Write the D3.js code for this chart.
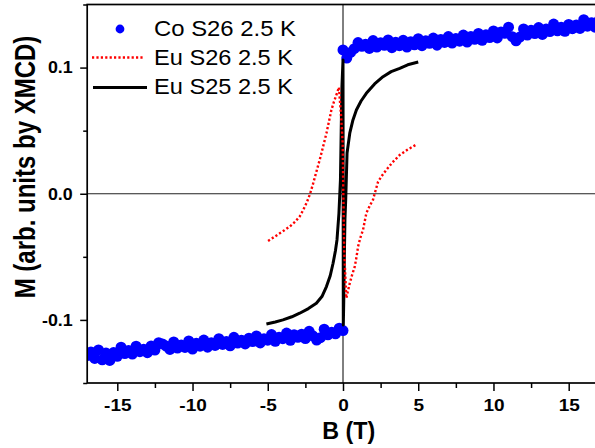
<!DOCTYPE html>
<html>
<head>
<meta charset="utf-8">
<script src="https://cdn.jsdelivr.net/npm/d3@7"></script>
<style>
  html, body { margin: 0; padding: 0; background: #fff; }
  svg { display: block; font-family: "Liberation Sans", Arial, sans-serif; }
</style>
</head>
<body>
<svg id="chart" width="595" height="448"></svg>
<script>
// Co S26 2.5 K — XMCD magnetisation, negative-field branch (two sweeps interleaved)
const coNegField = [-17, -16.75, -16.5, -16.25, -16, -15.75, -15.5, -15.25, -15, -14.75,
  -14.5, -14.25, -14, -13.75, -13.5, -13.25, -13, -12.75, -12.5, -12.25,
  -12, -11.75, -11.5, -11.25, -11, -10.75, -10.5, -10.25, -10, -9.75,
  -9.5, -9.25, -9, -8.75, -8.5, -8.25, -8, -7.75, -7.5, -7.25,
  -7, -6.75, -6.5, -6.25, -6, -5.75, -5.5, -5.25, -5, -4.75,
  -4.5, -4.25, -4, -3.75, -3.5, -3.25, -3, -2.75, -2.5, -2.25,
  -2, -1.75, -1.5, -1.25, -1, -0.75, -0.5, -0.25, 0];
const coNegMoment = [-0.1282, -0.1254, -0.1305, -0.1238, -0.1316, -0.1263, -0.1321, -0.1259, -0.1288, -0.1216,
  -0.1267, -0.1242, -0.1271, -0.1208, -0.1252, -0.1233, -0.1260, -0.1206, -0.1239, -0.1181,
  -0.1190, -0.1207, -0.1234, -0.1175, -0.1223, -0.1199, -0.1218, -0.1167, -0.1231, -0.1185,
  -0.1208, -0.1160, -0.1216, -0.1180, -0.1202, -0.1149, -0.1194, -0.1172, -0.1205, -0.1138,
  -0.1183, -0.1161, -0.1190, -0.1145, -0.1171, -0.1127, -0.1182, -0.1149, -0.1161, -0.1116,
  -0.1170, -0.1138, -0.1149, -0.1104, -0.1162, -0.1117, -0.1138, -0.1113, -0.1148, -0.1090,
  -0.1126, -0.1160, -0.1141, -0.1074, -0.1118, -0.1097, -0.1110, -0.1066, -0.1084];

// Co S26 2.5 K — positive-field branch (two sweeps interleaved)
const coPosField = [0, 0.25, 0.5, 0.75, 1, 1.25, 1.5, 1.75, 2, 2.25,
  2.5, 2.75, 3, 3.25, 3.5, 3.75, 4, 4.25, 4.5, 4.75,
  5, 5.25, 5.5, 5.75, 6, 6.25, 6.5, 6.75, 7, 7.25,
  7.5, 7.75, 8, 8.25, 8.5, 8.75, 9, 9.25, 9.5, 9.75,
  10, 10.25, 10.5, 10.75, 11, 11.25, 11.5, 11.75, 12, 12.25,
  12.5, 12.75, 13, 13.25, 13.5, 13.75, 14, 14.25, 14.5, 14.75,
  15, 15.25, 15.5, 15.75, 16, 16.25, 16.5, 16.75, 17];
const coPosMoment = [0.1140, 0.1075, 0.1120, 0.1150, 0.1198, 0.1169, 0.1185, 0.1152, 0.1214, 0.1163,
  0.1196, 0.1177, 0.1219, 0.1158, 0.1200, 0.1174, 0.1216, 0.1163, 0.1205, 0.1181,
  0.1229, 0.1174, 0.1212, 0.1192, 0.1234, 0.1178, 0.1223, 0.1199, 0.1246, 0.1194,
  0.1230, 0.1209, 0.1258, 0.1202, 0.1246, 0.1224, 0.1271, 0.1216, 0.1260, 0.1238,
  0.1290, 0.1235, 0.1282, 0.1272, 0.1320, 0.1245, 0.1212, 0.1242, 0.1306, 0.1258,
  0.1295, 0.1270, 0.1317, 0.1263, 0.1305, 0.1286, 0.1345, 0.1292, 0.1320, 0.1288,
  0.1342, 0.1308, 0.1338, 0.1310, 0.1380, 0.1328, 0.1355, 0.1320, 0.1372];

// Eu S26 2.5 K — field sweep from -5 T to +5 T
const euS26Field = [-4.98, -4.6, -4.2, -3.9, -3.54, -3.2, -2.88, -2.65, -2.43, -2.2,
  -2.0, -1.78, -1.55, -1.32, -1.1, -0.92, -0.77, -0.6, -0.45, -0.27,
  -0.12, -0.02, 0.02, 0.08, 0.22, 0.32, 0.45, 0.6, 0.78, 0.9,
  1.0, 1.15, 1.33, 1.55, 1.78, 1.99, 2.15, 2.33, 2.6, 2.88,
  3.3, 3.77, 4.3, 4.83];
const euS26Moment = [-0.0374, -0.0345, -0.0313, -0.0290, -0.0260, -0.0224, -0.0181, -0.0130, -0.0075, -0.0005,
  0.0075, 0.0170, 0.0268, 0.0375, 0.0480, 0.0580, 0.0664, 0.0730, 0.0780, 0.0844,
  0.0600, 0.0400, 0.0000, -0.0450, -0.0828, -0.0775, -0.0709, -0.0645, -0.0578, -0.0500,
  -0.0419, -0.0350, -0.0287, -0.0155, -0.0095, -0.0049, 0.0020, 0.0095, 0.0145, 0.0189,
  0.0250, 0.0307, 0.0350, 0.0387];

// Eu S25 2.5 K — field sweep from -5 T to +5 T
const euS25Field = [-5.09, -4.5, -3.99, -3.4, -2.88, -2.3, -1.77, -1.4, -1.1, -0.85,
  -0.66, -0.5, -0.4, -0.27, -0.17, -0.12, -0.07, 0.0, 0.02, 0.05,
  0.09, 0.13, 0.18, 0.27, 0.45, 0.65, 0.89, 1.2, 1.55, 2.1,
  2.66, 3.2, 3.77, 4.3, 5.0];
const euS25Moment = [-0.1032, -0.1016, -0.1000, -0.0975, -0.0947, -0.0910, -0.0868, -0.0815, -0.0736, -0.0650,
  -0.0551, -0.0450, -0.0366, -0.0155, 0.0110, 0.0500, 0.0850, 0.1060, -0.1040, -0.0850,
  -0.0500, -0.0200, -0.0050, 0.0323, 0.0480, 0.0580, 0.0664, 0.0735, 0.0796, 0.0870,
  0.0928, 0.0968, 0.0994, 0.1022, 0.1044];

// Axis ticks
const xMajorTicks = [-15, -10, -5, 0, 5, 10, 15];
const xMinorTicks = [-12.5, -7.5, -2.5, 2.5, 7.5, 12.5];
const yMajorTicks = [-0.1, 0.0, 0.1];
const yMinorTicks = [-0.15, -0.05, 0.05, 0.15];

const legendLabels = ["Co S26 2.5 K", "Eu S26 2.5 K", "Eu S25 2.5 K"];

const svg = d3.select("#chart");
const plot = { left: 87.2, right: 598.8, top: 4.5, bottom: 383 };

const x = d3.scaleLinear().domain([-17, 17]).range([plot.left, plot.right]);
const y = d3.scaleLinear().domain([-0.15, 0.15]).range([plot.bottom, plot.top]);

svg.append("defs").append("clipPath").attr("id", "plotClip")
  .append("rect")
  .attr("x", plot.left).attr("y", plot.top)
  .attr("width", plot.right - plot.left).attr("height", plot.bottom - plot.top);

// stretch text horizontally by factor k
function stretch(sel, k) {
  sel.each(function () {
    const w = this.getComputedTextLength();
    this.setAttribute("textLength", w * k);
    this.setAttribute("lengthAdjust", "spacingAndGlyphs");
  });
}

const data = svg.append("g").attr("clip-path", "url(#plotClip)");

// zero lines
data.append("line")
  .attr("x1", plot.left).attr("x2", plot.right)
  .attr("y1", y(0)).attr("y2", y(0))
  .attr("stroke", "#222").attr("stroke-width", 1);
data.append("line")
  .attr("x1", x(0)).attr("x2", x(0))
  .attr("y1", plot.top).attr("y2", plot.bottom)
  .attr("stroke", "#000").attr("stroke-width", 1);

// Co scatter
const coPoints = coNegField.map((b, i) => [b, coNegMoment[i]])
  .concat(coPosField.map((b, i) => [b, coPosMoment[i]]));
data.append("g").selectAll("circle")
  .data(coPoints)
  .join("circle")
  .attr("cx", d => x(d[0]))
  .attr("cy", d => y(d[1]))
  .attr("r", 5.5)
  .attr("fill", "#0000ff");

const line = d3.line().x(d => x(d[0])).y(d => y(d[1]));

// Eu S25 solid loop
data.append("path")
  .datum(euS25Field.map((b, i) => [b, euS25Moment[i]]))
  .attr("d", line)
  .attr("fill", "none")
  .attr("stroke", "#000")
  .attr("stroke-width", 3)
  .attr("stroke-linejoin", "round");

// Eu S26 dotted loop
data.append("path")
  .datum(euS26Field.map((b, i) => [b, euS26Moment[i]]))
  .attr("d", line)
  .attr("fill", "none")
  .attr("stroke", "#ff0000")
  .attr("stroke-width", 2.4)
  .attr("stroke-dasharray", "2.2,2.2");

// frame
svg.append("rect")
  .attr("x", plot.left).attr("y", plot.top)
  .attr("width", plot.right - plot.left).attr("height", plot.bottom - plot.top)
  .attr("fill", "none").attr("stroke", "#000").attr("stroke-width", 1.7);

// x axis
const xAxis = svg.append("g")
  .attr("transform", `translate(0,${plot.bottom})`)
  .call(d3.axisBottom(x).tickValues(xMajorTicks).tickSize(8).tickPadding(8.5)
    .tickFormat(d => d3.format("d")(d).replace("−", "-")));
svg.append("g")
  .attr("transform", `translate(0,${plot.bottom})`)
  .call(d3.axisBottom(x).tickValues(xMinorTicks).tickSize(5).tickFormat(""))
  .call(g => g.select(".domain").remove())
  .selectAll("line").attr("stroke-width", 1.5);
xAxis.select(".domain").remove();
xAxis.selectAll("line").attr("stroke-width", 1.5);
xAxis.selectAll("text")
  .attr("font-size", 16.5).attr("font-weight", "bold")
  .attr("font-family", '"Liberation Sans", Arial, sans-serif')
  .attr("fill", "#000")
  .call(stretch, 1.15);

// y axis
const yAxis = svg.append("g")
  .attr("transform", `translate(${plot.left},0)`)
  .call(d3.axisLeft(y).tickValues(yMajorTicks).tickSize(7).tickPadding(7.5)
    .tickFormat(d => d3.format(".1f")(d).replace("−", "-")));
svg.append("g")
  .attr("transform", `translate(${plot.left},0)`)
  .call(d3.axisLeft(y).tickValues(yMinorTicks).tickSize(4).tickFormat(""))
  .call(g => g.select(".domain").remove())
  .selectAll("line").attr("stroke-width", 1.5);
yAxis.select(".domain").remove();
yAxis.selectAll("line").attr("stroke-width", 1.5);
yAxis.selectAll("text")
  .attr("font-size", 16.5).attr("font-weight", "bold")
  .attr("font-family", '"Liberation Sans", Arial, sans-serif')
  .attr("fill", "#000")
  .call(stretch, 1.08);

// axis titles
svg.append("text")
  .attr("x", 348.7).attr("y", 439.3)
  .attr("text-anchor", "middle")
  .attr("font-size", 24).attr("font-weight", "bold")
  .text("B (T)")
  .call(stretch, 0.97);

// vertical title: condensed along its reading direction
svg.append("text")
  .attr("transform", "translate(35,167) rotate(-90) scale(1,1.2)")
  .attr("text-anchor", "middle")
  .attr("font-size", 24).attr("font-weight", "bold")
  .text("M (arb. units by XMCD)");

// legend
const legend = svg.append("g");
const rowY = [29, 57.5, 87.5];
legend.append("circle").attr("cx", 120).attr("cy", rowY[0]).attr("r", 4.4).attr("fill", "#0000ff");
legend.append("line").attr("x1", 92).attr("x2", 144).attr("y1", rowY[1]).attr("y2", rowY[1])
  .attr("stroke", "#ff0000").attr("stroke-width", 2.4).attr("stroke-dasharray", "2.2,2.2");
legend.append("line").attr("x1", 93).attr("x2", 147).attr("y1", rowY[2]).attr("y2", rowY[2])
  .attr("stroke", "#000").attr("stroke-width", 3);
legend.selectAll("text.lab")
  .data(legendLabels)
  .join("text")
  .attr("class", "lab")
  .attr("x", 154)
  .attr("y", (d, i) => [35.8, 65, 94][i])
  .attr("font-size", 22)
  .attr("fill", "#000")
  .text(d => d)
  .each(function (d, i) {
    this.setAttribute("textLength", [142, 139, 139][i]);
    this.setAttribute("lengthAdjust", "spacingAndGlyphs");
  });
</script>
</body>
</html>
